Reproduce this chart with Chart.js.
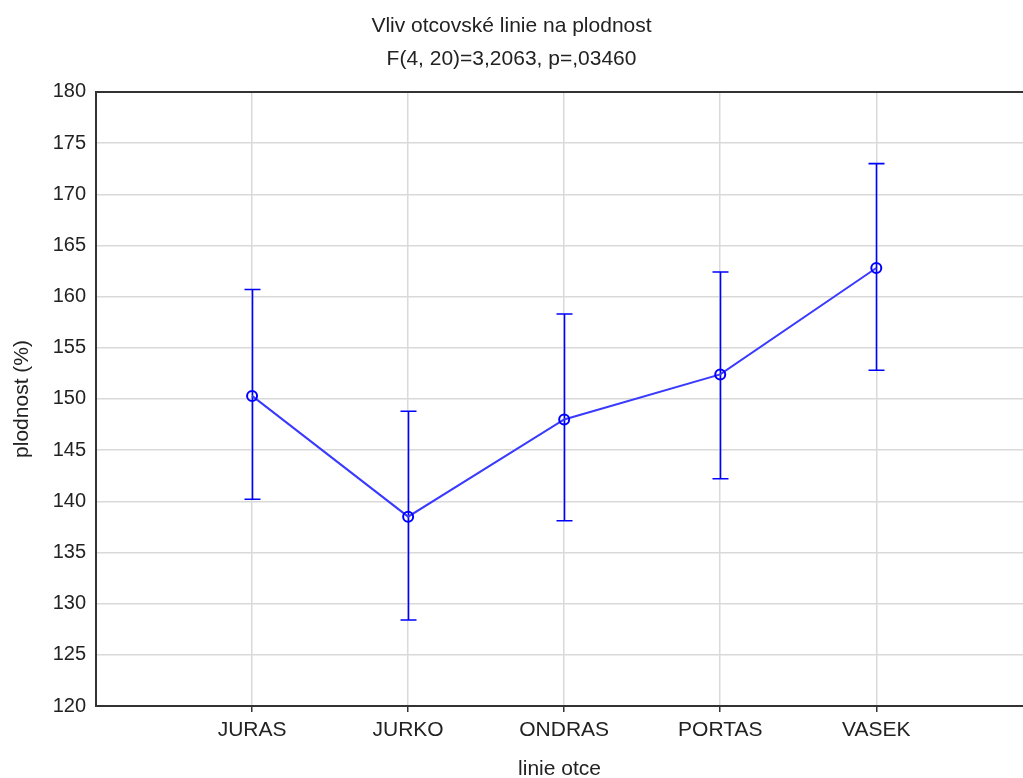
<!DOCTYPE html>
<html>
<head>
<meta charset="utf-8">
<script src="https://cdn.jsdelivr.net/npm/chart.js@4"></script>
<style>
  html, body { margin: 0; padding: 0; background: #fff; overflow: hidden; }
  #wrap { width: 1023px; height: 778px; position: relative; }
</style>
</head>
<body>
<div id="wrap"><canvas id="c"></canvas></div>
<script>
// Paternal lines and their mean fertility with confidence bounds
const categories = ['JURAS', 'JURKO', 'ONDRAS', 'PORTAS', 'VASEK'];
const means = [150.3, 138.5, 148.0, 152.4, 162.8];
const upper = [160.7, 148.8, 158.3, 162.4, 173.0];
const lower = [140.2, 128.4, 138.1, 142.2, 152.8];
const yTicks = [120, 125, 130, 135, 140, 145, 150, 155, 160, 165, 170, 175, 180];

const titleLines = ['Vliv otcovské linie na plodnost', 'F(4, 20)=3,2063, p=,03460'];
const xTitle = 'linie otce';
const yTitle = 'plodnost (%)';

const FONT = '"Liberation Sans", Arial, sans-serif';
const BLUE = '#0000ff';

// Whiskers from lower to upper bound with horizontal caps
const errorBars = {
  id: 'errorBars',
  beforeDatasetsDraw(chart) {
    const { ctx, scales: { x, y } } = chart;
    ctx.save();
    ctx.strokeStyle = BLUE;
    ctx.lineWidth = 1.6;
    const cap = 8;
    categories.forEach((_, i) => {
      const px = Math.round(x.getPixelForValue(i + 1)) + 0.5;
      const top = y.getPixelForValue(upper[i]);
      const bot = y.getPixelForValue(lower[i]);
      ctx.beginPath();
      ctx.moveTo(px, top); ctx.lineTo(px, bot);
      ctx.moveTo(px - cap, top); ctx.lineTo(px + cap, top);
      ctx.moveTo(px - cap, bot); ctx.lineTo(px + cap, bot);
      ctx.stroke();
    });
    ctx.restore();
  }
};

// Upper frame line of the plot area
const frameTop = {
  id: 'frameTop',
  afterDraw(chart) {
    const { ctx, chartArea } = chart;
    ctx.save();
    ctx.strokeStyle = '#333';
    ctx.lineWidth = 2;
    ctx.beginPath();
    ctx.moveTo(chartArea.left, chartArea.top);
    ctx.lineTo(chartArea.right, chartArea.top);
    ctx.stroke();
    ctx.restore();
  }
};

new Chart(document.getElementById('c'), {
  type: 'line',
  data: {
    datasets: [{
      data: means.map((m, i) => ({ x: i + 1, y: m })),
      borderColor: '#3a3aff',
      borderWidth: 2,
      pointRadius: 5,
      pointBorderWidth: 2,
      pointBorderColor: BLUE,
      pointBackgroundColor: 'rgba(255,255,255,0)',
      tension: 0
    }]
  },
  options: {
    responsive: true,
    maintainAspectRatio: false,
    animation: false,
    layout: { autoPadding: false, padding: 0 },
    plugins: {
      legend: { display: false },
      tooltip: { enabled: false },
      title: {
        display: true,
        text: titleLines,
        color: '#222',
        font: { family: FONT, size: 21, weight: 'normal', lineHeight: 1.57 },
        padding: { top: 10, bottom: 16 }
      }
    },
    scales: {
      x: {
        type: 'linear',
        min: 0,
        max: 5.94,
        afterBuildTicks(scale) {
          scale.ticks = categories.map((_, i) => ({ value: i + 1 }));
        },
        afterFit(scale) { scale.height = 72; },
        ticks: {
          color: '#222',
          font: { family: FONT, size: 21 },
          padding: 6,
          maxRotation: 0,
          autoSkip: false,
          callback: (v) => categories[v - 1] ?? ''
        },
        grid: { color: '#d9d9d9', lineWidth: 1.5, tickLength: 6, tickColor: '#333' },
        border: { color: '#333', width: 2 },
        title: {
          display: true,
          text: xTitle,
          color: '#222',
          font: { family: FONT, size: 21, lineHeight: 1.0 },
          padding: { top: 0, bottom: -2 }
        }
      },
      y: {
        min: 120,
        max: 180,
        afterBuildTicks(scale) {
          scale.ticks = yTicks.map(v => ({ value: v }));
        },
        afterFit(scale) { scale.width = 96; },
        ticks: {
          color: '#222',
          font: { family: FONT, size: 20 },
          padding: 10
        },
        grid: { color: '#d9d9d9', lineWidth: 1.5, drawTicks: false },
        border: { color: '#333', width: 2 },
        title: {
          display: true,
          text: yTitle,
          color: '#222',
          font: { family: FONT, size: 21, lineHeight: 1.2 },
          padding: { top: 10, bottom: 0 }
        }
      }
    }
  },
  plugins: [errorBars, frameTop]
});
</script>
</body>
</html>
